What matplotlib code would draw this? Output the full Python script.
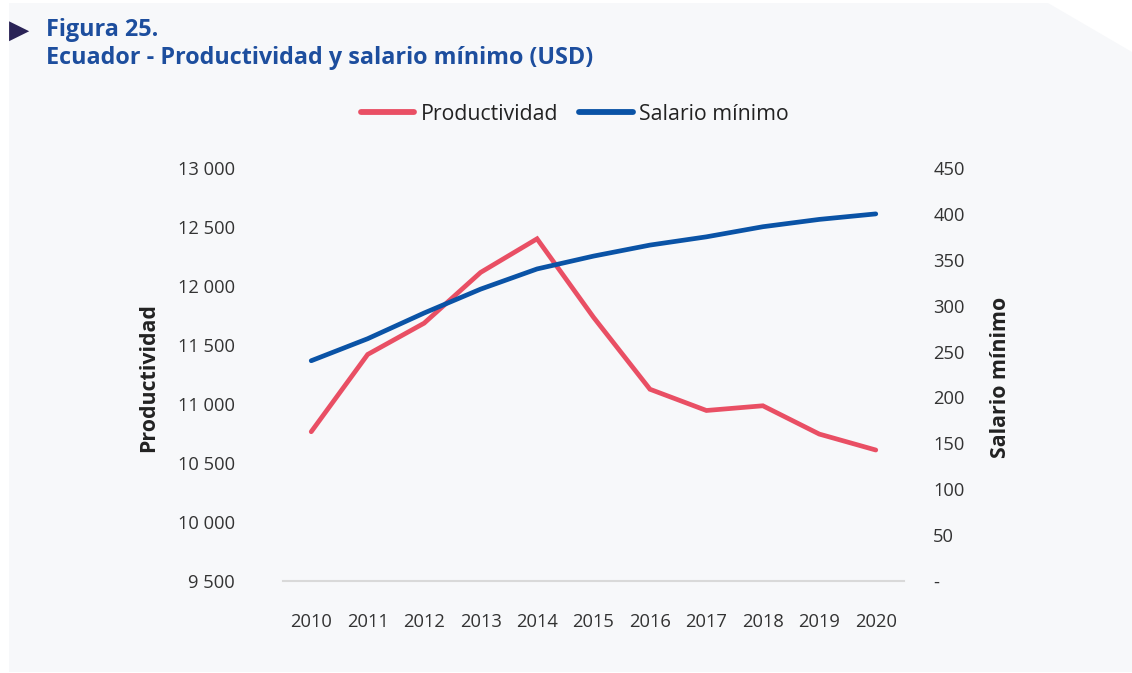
import matplotlib.pyplot as plt
from matplotlib.patches import Polygon
from matplotlib.ticker import FuncFormatter

plt.rcParams['font.family'] = ['Open Sans', 'DejaVu Sans']

# Data
years = ['2010', '2011', '2012', '2013', '2014', '2015', '2016', '2017', '2018', '2019', '2020']
productividad = [10765, 11420, 11685, 12115, 12400, 11735, 11125, 10945, 10985, 10745, 10610]
salario_minimo = [240, 264, 292, 318, 340, 354, 366, 375, 386, 394, 400]

red = '#e94f64'
blue = '#0a53a6'
text_col = '#333333'

fig = plt.figure(figsize=(11.32, 6.73), dpi=100)
fig.patch.set_facecolor('white')

# grey panel with clipped top-right corner
W, H = 1132, 673
pts = [(9, 3), (1048, 3), (1132, 52), (1132, 672), (9, 672)]
panel = Polygon([(x / W, 1 - y / H) for x, y in pts], closed=True,
                transform=fig.transFigure, facecolor='#f7f8fa', edgecolor='none', zorder=-5)
fig.patches.append(panel)

# title
fig.text(9 / W, 1 - 31 / H, '\u25B6', color='#2a2356', fontsize=19, va='center', ha='left',
         family=['DejaVu Sans'])
fig.text(46 / W, 1 - 30 / H, 'Figura 25.', color='#1d4e9e', fontsize=16.8, fontweight='bold',
         va='center', ha='left')
fig.text(46 / W, 1 - 58 / H, 'Ecuador - Productividad y salario mínimo (USD)', color='#1d4e9e',
         fontsize=16.8, fontweight='bold', va='center', ha='left')

ax = fig.add_axes([283 / W, 1 - 581 / H, (904 - 283) / W, (581 - 168) / H])
ax.set_facecolor('none')
ax2 = ax.twinx()

x = list(range(len(years)))
l1, = ax.plot(x, productividad, color=red, lw=3.4, solid_capstyle='round', solid_joinstyle='miter')
l2, = ax2.plot(x, salario_minimo, color=blue, lw=3.4, solid_capstyle='round', solid_joinstyle='miter')

ax.set_xlim(-0.5, len(years) - 0.5)
ax.set_ylim(9500, 13000)
ax.set_yticks(range(9500, 13001, 500))
ax.yaxis.set_major_formatter(FuncFormatter(lambda v, p: f'{int(v):,}'.replace(',', ' ')))
ax2.set_ylim(0, 450)
ax2.set_yticks(range(0, 451, 50))
ax2.yaxis.set_major_formatter(FuncFormatter(lambda v, p: '-' if v == 0 else f'{int(v)}'))

ax.set_xticks(x)
ax.set_xticklabels(years)

for a in (ax, ax2):
    for s in a.spines.values():
        s.set_visible(False)
    a.tick_params(length=0, labelsize=13.2, labelcolor=text_col)
ax.spines['bottom'].set_visible(True)
ax.spines['bottom'].set_color('#d9d9d9')
ax.spines['bottom'].set_linewidth(1.5)
ax.tick_params(axis='y', pad=34.5)
ax.tick_params(axis='x', pad=23)
ax2.tick_params(axis='y', pad=21)

ax.set_ylabel('Productividad', fontsize=15.4, fontweight='bold', color='#222222')
ax.yaxis.set_label_coords(-0.1997, 0.493)
ax2.set_ylabel('Salario mínimo', fontsize=15.4, fontweight='bold', color='#222222')
ax2.yaxis.set_label_coords(1.1385, 0.493)

leg = fig.legend([l1, l2], ['Productividad', 'Salario mínimo'], loc='center', ncol=2,
                 bbox_to_anchor=(575 / W, 1 - 114 / H), frameon=False, fontsize=15.3,
                 handlelength=2.5, handletextpad=0.3, columnspacing=1.0,
                 labelcolor='#222222')
for h in leg.legend_handles:
    h.set_linewidth(4.2)

fig.savefig('out.png', dpi=100)
